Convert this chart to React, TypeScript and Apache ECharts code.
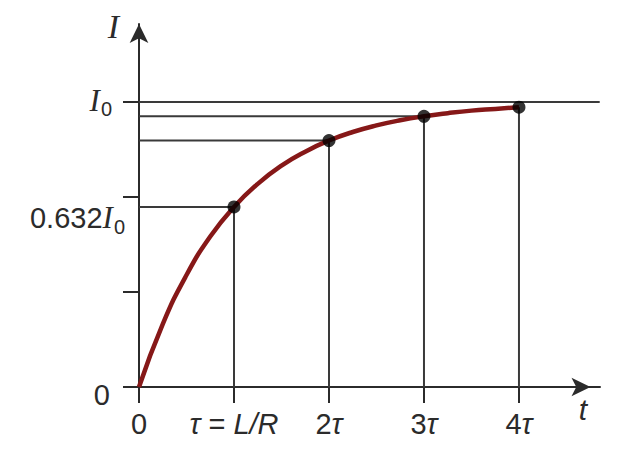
import React, { useEffect, useRef } from "react";
import * as echarts from "echarts";

// Curve I(t) (t in units of tau, I in units of I0)
const curveT = [0, 0.25, 0.5, 0.75, 1, 1.25, 1.5, 1.75, 2, 2.25, 2.5, 2.75, 3, 3.25, 3.5, 3.75, 4];
const curveI = [0, 0.221, 0.393, 0.528, 0.632, 0.713, 0.777, 0.826, 0.865, 0.895, 0.918, 0.936, 0.95, 0.961, 0.97, 0.976, 0.982];

// Marked points at tau, 2tau, 3tau, 4tau
const dotT = [1, 2, 3, 4];
const dotI = [0.632, 0.865, 0.95, 0.982];
const hGuideIdx = [0, 1, 2];
const i0Level = 1;
const i0LineEndT = 4.85;

// Axis ticks and labels
const xTickValues = [0, 1, 2, 3, 4];
const xTickLabels = ["{n|0}", "{g|τ}{n| = }{g|L/R}", "{n|2}{g|τ}", "{n|3}{g|τ}", "{n|4}{g|τ}"];
const yTickValues = [0, 0.333, 0.667, 1];
const yLabelValues = [0, 0.632, 1];
const yLabelTexts = ["{z|0}", "{a|0.632}{b|I}{c|0}", "{b0|I}{c0|0}"];
const xName = "t";
const yName = "I";

const INK = "#2b2b2b";
const SANS = "'Liberation Sans', Arial, sans-serif";
const SERIF = "'Liberation Serif', 'Times New Roman', serif";

export default function App() {
  const ref = useRef<HTMLDivElement>(null);
  useEffect(() => {
    if (!ref.current) return;
    const chart = echarts.init(ref.current, null, { renderer: "svg" });

    const guideSeries: any[] = [];
    dotT.forEach((t, i) => {
      guideSeries.push([[t, 0], [t, dotI[i]]]);
    });
    hGuideIdx.forEach((i) => {
      guideSeries.push([[0, dotI[i]], [dotT[i], dotI[i]]]);
    });
    guideSeries.push([[0, i0Level], [i0LineEndT, i0Level]]);

    const axisLineStyle = { color: INK, width: 2 };

    chart.setOption({
      animation: false,
      grid: { left: 139, right: 40, top: 24, bottom: 70, outerBoundsMode: "none", containLabel: false },
      xAxis: {
        type: "value",
        min: 0,
        max: 4.853,
        name: xName,
        nameLocation: "end",
        nameGap: -17,
        nameMoveOverlap: false,
        nameTextStyle: {
          fontFamily: SANS,
          fontStyle: "italic",
          fontSize: 30,
          color: INK,
          align: "center",
          verticalAlign: "top",
          padding: [7, 0, 0, 0],
        },
        axisLine: {
          show: true,
          lineStyle: axisLineStyle,
          symbol: ["none", "arrow"],
          symbolSize: [14, 19],
          symbolOffset: [0, -9.5],
        },
        axisTick: { show: true, inside: false, length: 16, lineStyle: axisLineStyle, customValues: xTickValues },
        axisLabel: {
          show: true,
          margin: 22,
          customValues: xTickValues,
          formatter: (v: number) => {
            const i = xTickValues.indexOf(v);
            return i >= 0 ? xTickLabels[i] : "";
          },
          color: INK,
          fontFamily: SANS,
          fontSize: 29,
          rich: {
            n: { fontFamily: SANS, fontSize: 29, color: INK },
            g: { fontFamily: SANS, fontSize: 29, fontStyle: "italic", color: INK },
          },
        },
        splitLine: { show: false },
      },
      yAxis: {
        type: "value",
        min: 0,
        max: 1.274,
        name: yName,
        nameLocation: "end",
        nameGap: -2,
        nameMoveOverlap: false,
        nameTextStyle: {
          fontFamily: SERIF,
          fontStyle: "italic",
          fontSize: 34,
          color: INK,
          align: "right",
          verticalAlign: "middle",
          padding: [0, 20, 0, 0],
        },
        axisLine: { show: true, lineStyle: axisLineStyle, symbol: ["none", "arrow"], symbolSize: [14, 19] },
        axisTick: { show: true, inside: false, length: 16, lineStyle: axisLineStyle, customValues: yTickValues },
        axisLabel: {
          show: true,
          margin: 14,
          customValues: yLabelValues,
          formatter: (v: number) => {
            const i = yLabelValues.indexOf(v);
            return i >= 0 ? yLabelTexts[i] : "";
          },
          color: INK,
          fontFamily: SANS,
          fontSize: 29,
          rich: {
            z: { fontFamily: SANS, fontSize: 29, color: INK, verticalAlign: "top", padding: [16, 15, 0, 0] },
            a: { fontFamily: SANS, fontSize: 29, color: INK, verticalAlign: "top", padding: [27, 0, 0, 0] },
            b: { fontFamily: SERIF, fontStyle: "italic", fontSize: 31, color: INK, verticalAlign: "top", padding: [26, 1, 0, 0] },
            c: { fontFamily: SANS, fontSize: 20, color: INK, verticalAlign: "top", padding: [41, 0, 0, 0] },
            b0: { fontFamily: SERIF, fontStyle: "italic", fontSize: 31, color: INK, verticalAlign: "top", padding: [0, 1, 0, 0] },
            c0: { fontFamily: SANS, fontSize: 20, color: INK, verticalAlign: "top", padding: [14, 13, 0, 0] },
          },
        },
        splitLine: { show: false },
      },
      series: [
        ...guideSeries.map((pts) => ({
          type: "line",
          data: pts,
          clip: false,
          symbol: "none",
          silent: true,
          z: 1,
          lineStyle: { color: "#3a3a3a", width: 2 },
        })),
        {
          type: "line",
          data: curveT.map((t, i) => [t, curveI[i]]),
          smooth: true,
          symbol: "none",
          clip: false,
          z: 3,
          lineStyle: { color: "#861818", width: 4.5 },
        },
        {
          type: "scatter",
          data: dotT.map((t, i) => [t, dotI[i]]),
          symbolSize: 13,
          z: 5,
          itemStyle: { color: "#000" },
        },
      ],
    });
    return () => chart.dispose();
  }, []);
  return (
    <div
      ref={ref}
      style={{ position: "fixed", left: 0, top: 0, width: 640, height: 457, background: "#fff" }}
    />
  );
}
